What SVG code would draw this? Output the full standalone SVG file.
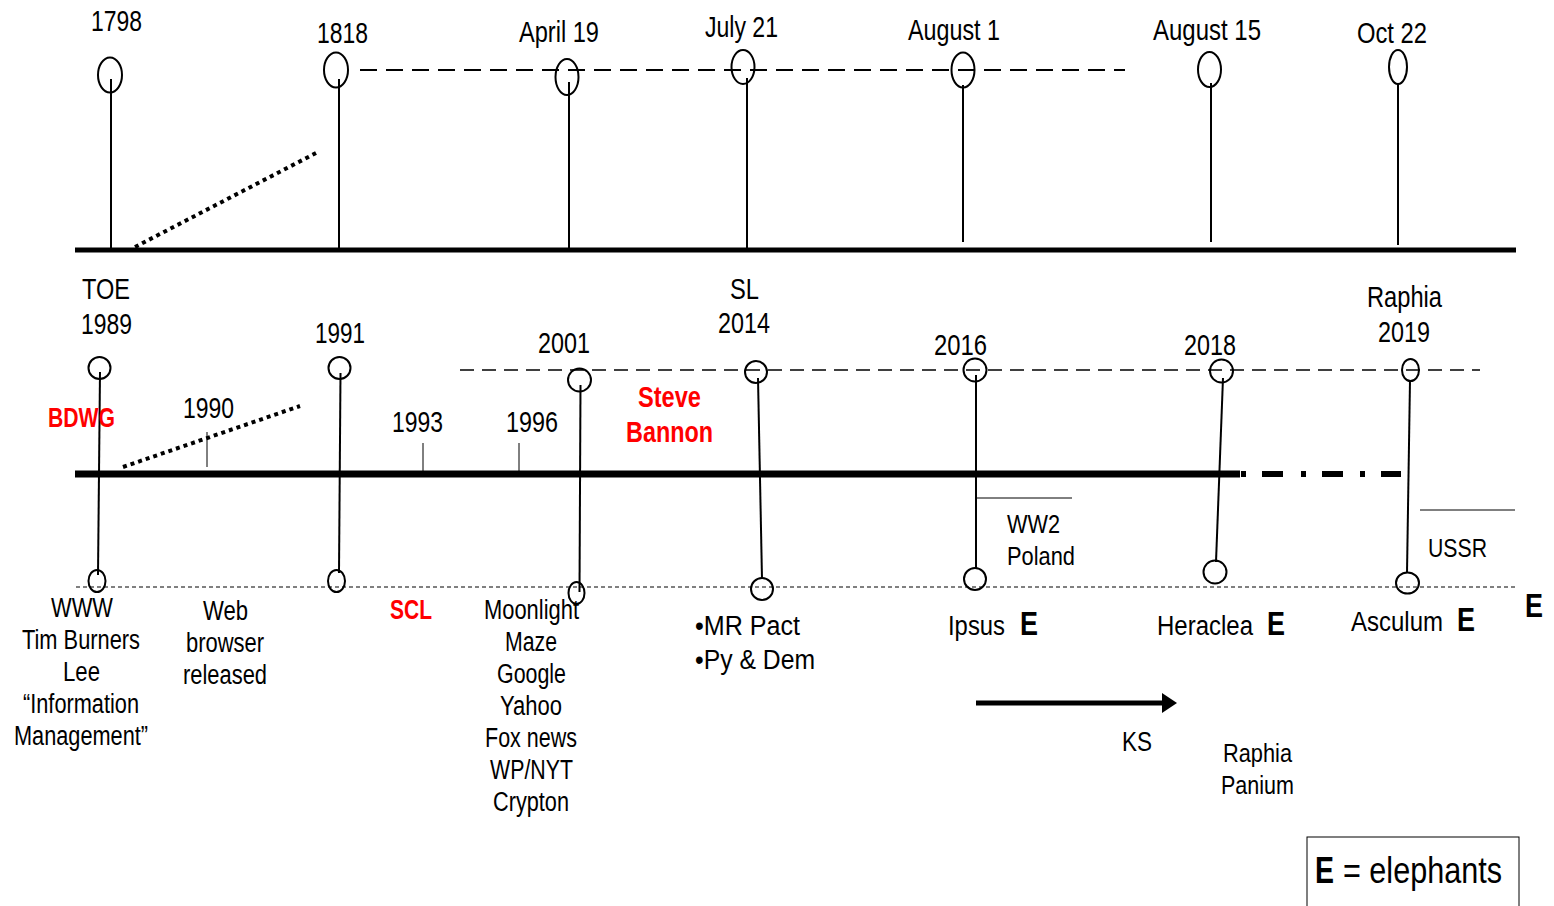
<svg xmlns="http://www.w3.org/2000/svg" width="1554" height="906" viewBox="0 0 1554 906">
<style>
text{font-family:"Liberation Sans Narrow","Liberation Sans",Arial,sans-serif;fill:#000}
.d{font-size:29.5px}
.m{font-size:26px}
.b{font-size:27px}
.red{fill:#ff0000;font-weight:bold}
.E{font-weight:bold;font-size:34px}
.thick{stroke:#000;stroke-width:5;fill:none}
.stem{stroke:#000;stroke-width:2;fill:none}
.ring{stroke:#000;stroke-width:2;fill:none}
.dots{stroke:#000;stroke-width:4;stroke-dasharray:4 4;fill:none}
.thin{stroke:#000;stroke-width:1;fill:none}
</style>
<defs>
<marker id="ah" markerWidth="4" markerHeight="4" refX="1" refY="2" orient="auto" markerUnits="strokeWidth">
<path d="M0,0 L3,2 L0,4 Z" fill="#000"/>
</marker>
</defs>
<rect width="1554" height="906" fill="#fff"/>

<g id="connectors">
<line class="thick" x1="75" y1="250" x2="1516" y2="250"/>
<line x1="360" y1="70" x2="1125" y2="70" stroke="#000" stroke-width="2" stroke-dasharray="17 9"/>
<line class="dots" x1="135" y1="247" x2="316" y2="153"/>
<line stroke="#000" stroke-width="7" x1="75" y1="474" x2="1240" y2="474"/>
<path d="M1241,474h5 M1262,474h21 M1301,474h5 M1322,474h21 M1360,474h5 M1381,474h20" stroke="#000" stroke-width="6"/>
<line class="dots" x1="123" y1="467" x2="300" y2="406"/>
<line x1="460" y1="370" x2="1480" y2="370" stroke="#000" stroke-width="1.5" stroke-dasharray="14 8"/>
<line x1="76" y1="587" x2="1515" y2="587" stroke="#000" stroke-width="1" stroke-dasharray="4 3"/>
<line class="thin" x1="207" y1="432" x2="207" y2="467"/>
<line class="thin" x1="423" y1="443" x2="423" y2="474"/>
<line class="thin" x1="519" y1="443" x2="519" y2="474"/>
<line class="thin" x1="976" y1="498" x2="1072" y2="498"/>
<line class="thin" x1="1420" y1="510" x2="1515" y2="510"/>
<line x1="976" y1="703" x2="1167" y2="703" stroke="#000" stroke-width="5" marker-end="url(#ah)"/>
</g>

<g id="top-1798"><ellipse class="ring" cx="110" cy="75" rx="12" ry="17.5"/><line class="stem" x1="111" y1="79" x2="111" y2="250"/><text class="d" x="91" y="31" textLength="51" lengthAdjust="spacingAndGlyphs">1798</text></g>
<g id="top-1818"><ellipse class="ring" cx="336" cy="70" rx="12" ry="17.5"/><line class="stem" x1="339" y1="79" x2="339" y2="250"/><text class="d" x="317" y="43" textLength="51" lengthAdjust="spacingAndGlyphs">1818</text></g>
<g id="top-april19"><ellipse class="ring" cx="567" cy="77" rx="11.5" ry="18"/><line class="stem" x1="569" y1="82" x2="569" y2="250"/><text class="d" x="519" y="42" textLength="80" lengthAdjust="spacingAndGlyphs">April 19</text></g>
<g id="top-july21"><ellipse class="ring" cx="743" cy="67" rx="11.5" ry="17"/><line class="stem" x1="747" y1="78" x2="747" y2="248"/><text class="d" x="705" y="37" textLength="73" lengthAdjust="spacingAndGlyphs">July 21</text></g>
<g id="top-aug1"><ellipse class="ring" cx="963" cy="70" rx="11.5" ry="17.5"/><line class="stem" x1="963" y1="85" x2="963" y2="242"/><text class="d" x="908" y="40" textLength="92" lengthAdjust="spacingAndGlyphs">August 1</text></g>
<g id="top-aug15"><ellipse class="ring" cx="1209.5" cy="69.5" rx="11.5" ry="17.5"/><line class="stem" x1="1211" y1="83" x2="1211" y2="242"/><text class="d" x="1153" y="40" textLength="108" lengthAdjust="spacingAndGlyphs">August 15</text></g>
<g id="top-oct22"><ellipse class="ring" cx="1398" cy="67" rx="9" ry="17"/><line class="stem" x1="1398" y1="84" x2="1398" y2="245"/><text class="d" x="1357" y="43" textLength="70" lengthAdjust="spacingAndGlyphs">Oct 22</text></g>

<g id="mid-1989"><circle class="ring" cx="99.5" cy="368" r="11"/><line class="stem" x1="100" y1="372" x2="98" y2="575"/><ellipse class="ring" cx="97" cy="581" rx="8.5" ry="11"/><text class="d" x="82" y="299" textLength="48" lengthAdjust="spacingAndGlyphs">TOE</text><text class="d" x="81" y="334" textLength="51" lengthAdjust="spacingAndGlyphs">1989</text></g>
<g id="mid-bdwg"><text class="b red" x="48" y="427" textLength="67" lengthAdjust="spacingAndGlyphs">BDWG</text></g>
<g id="mid-1990"><text class="d" x="183" y="418" textLength="51" lengthAdjust="spacingAndGlyphs">1990</text></g>
<g id="mid-1991"><circle class="ring" cx="339.5" cy="368" r="11"/><line class="stem" x1="340.5" y1="373" x2="339" y2="573"/><ellipse class="ring" cx="336.5" cy="581" rx="8.5" ry="11"/><text class="d" x="315" y="343" textLength="50" lengthAdjust="spacingAndGlyphs">1991</text></g>
<g id="mid-1993"><text class="d" x="392" y="432" textLength="51" lengthAdjust="spacingAndGlyphs">1993</text></g>
<g id="mid-1996"><text class="d" x="506" y="432" textLength="52" lengthAdjust="spacingAndGlyphs">1996</text></g>
<g id="mid-2001"><circle class="ring" cx="579.5" cy="380" r="11.5"/><line class="stem" x1="580.5" y1="385" x2="579.5" y2="592"/><ellipse class="ring" cx="576.5" cy="593" rx="8" ry="11"/><text class="d" x="538" y="353" textLength="52" lengthAdjust="spacingAndGlyphs">2001</text></g>
<g id="mid-bannon"><text class="d red" x="638" y="407" textLength="63" lengthAdjust="spacingAndGlyphs">Steve</text><text class="d red" x="626" y="442" textLength="87" lengthAdjust="spacingAndGlyphs">Bannon</text></g>
<g id="mid-2014"><circle class="ring" cx="756" cy="372" r="11"/><line class="stem" x1="758" y1="378" x2="762" y2="579"/><circle class="ring" cx="762" cy="589" r="11"/><text class="d" x="730" y="299" textLength="29" lengthAdjust="spacingAndGlyphs">SL</text><text class="d" x="718" y="333" textLength="52" lengthAdjust="spacingAndGlyphs">2014</text></g>
<g id="mid-2016"><circle class="ring" cx="975" cy="370" r="11.5"/><line class="stem" x1="976" y1="375" x2="976" y2="569"/><circle class="ring" cx="975" cy="579" r="11"/><text class="d" x="934" y="355" textLength="53" lengthAdjust="spacingAndGlyphs">2016</text><text class="m" x="1007" y="533" textLength="53" lengthAdjust="spacingAndGlyphs">WW2</text><text class="m" x="1007" y="565" textLength="68" lengthAdjust="spacingAndGlyphs">Poland</text></g>
<g id="mid-2018"><circle class="ring" cx="1221.5" cy="371" r="11.5"/><line class="stem" x1="1223" y1="378" x2="1216" y2="562"/><circle class="ring" cx="1215" cy="572" r="11.5"/><text class="d" x="1184" y="355" textLength="52" lengthAdjust="spacingAndGlyphs">2018</text></g>
<g id="mid-2019"><ellipse class="ring" cx="1410.5" cy="370" rx="8.5" ry="11"/><line class="stem" x1="1410" y1="380" x2="1407" y2="573"/><ellipse class="ring" cx="1407.5" cy="583" rx="11.5" ry="10.5"/><text class="d" x="1367" y="307" textLength="75" lengthAdjust="spacingAndGlyphs">Raphia</text><text class="d" x="1378" y="342" textLength="52" lengthAdjust="spacingAndGlyphs">2019</text><text class="m" x="1428" y="557" textLength="59" lengthAdjust="spacingAndGlyphs">USSR</text></g>

<g id="bot-www"><text class="b" x="51" y="617" textLength="62" lengthAdjust="spacingAndGlyphs">WWW</text><text class="b" x="22" y="649" textLength="118" lengthAdjust="spacingAndGlyphs">Tim Burners</text><text class="b" x="63" y="681" textLength="37" lengthAdjust="spacingAndGlyphs">Lee</text><text class="b" x="23" y="713" textLength="116" lengthAdjust="spacingAndGlyphs">“Information</text><text class="b" x="14" y="745" textLength="134" lengthAdjust="spacingAndGlyphs">Management”</text></g>
<g id="bot-web"><text class="b" x="203" y="620" textLength="45" lengthAdjust="spacingAndGlyphs">Web</text><text class="b" x="186" y="652" textLength="78" lengthAdjust="spacingAndGlyphs">browser</text><text class="b" x="183" y="684" textLength="84" lengthAdjust="spacingAndGlyphs">released</text></g>
<g id="bot-scl"><text class="b red" x="390" y="619" textLength="42" lengthAdjust="spacingAndGlyphs">SCL</text></g>
<g id="bot-moonlight"><text class="b" x="484" y="619" textLength="95" lengthAdjust="spacingAndGlyphs">Moonlight</text><text class="b" x="505" y="651" textLength="52" lengthAdjust="spacingAndGlyphs">Maze</text><text class="b" x="497" y="683" textLength="69" lengthAdjust="spacingAndGlyphs">Google</text><text class="b" x="500" y="715" textLength="62" lengthAdjust="spacingAndGlyphs">Yahoo</text><text class="b" x="485" y="747" textLength="92" lengthAdjust="spacingAndGlyphs">Fox news</text><text class="b" x="490" y="779" textLength="83" lengthAdjust="spacingAndGlyphs">WP/NYT</text><text class="b" x="493" y="811" textLength="76" lengthAdjust="spacingAndGlyphs">Crypton</text></g>
<g id="bot-mrpact"><text class="b" x="695" y="635" textLength="105" lengthAdjust="spacingAndGlyphs">•MR Pact</text><text class="b" x="695" y="669" textLength="120" lengthAdjust="spacingAndGlyphs">•Py &amp; Dem</text></g>
<g id="bot-ipsus"><text class="b" x="948" y="635" textLength="57" lengthAdjust="spacingAndGlyphs">Ipsus</text><text class="E" x="1020" y="635" textLength="18" lengthAdjust="spacingAndGlyphs">E</text></g>
<g id="bot-heraclea"><text class="b" x="1157" y="635" textLength="96" lengthAdjust="spacingAndGlyphs">Heraclea</text><text class="E" x="1267" y="635" textLength="18" lengthAdjust="spacingAndGlyphs">E</text></g>
<g id="bot-asculum"><text class="b" x="1351" y="631" textLength="92" lengthAdjust="spacingAndGlyphs">Asculum</text><text class="E" x="1457" y="631" textLength="18" lengthAdjust="spacingAndGlyphs">E</text></g>
<g id="bot-e"><text class="E" x="1525" y="617" textLength="18" lengthAdjust="spacingAndGlyphs">E</text></g>
<g id="bot-ks"><text class="b" x="1122" y="751" textLength="30" lengthAdjust="spacingAndGlyphs">KS</text></g>
<g id="bot-raphia"><text class="m" x="1223" y="762" textLength="69" lengthAdjust="spacingAndGlyphs">Raphia</text><text class="m" x="1221" y="794" textLength="73" lengthAdjust="spacingAndGlyphs">Panium</text></g>
<g id="legend"><rect x="1307" y="837" width="212" height="80" fill="none" stroke="#000" stroke-width="1"/><text x="1315" y="883" font-size="37" font-weight="bold" textLength="19" lengthAdjust="spacingAndGlyphs">E</text><text x="1343" y="883" font-size="36" textLength="159" lengthAdjust="spacingAndGlyphs">= elephants</text></g>
</svg>
